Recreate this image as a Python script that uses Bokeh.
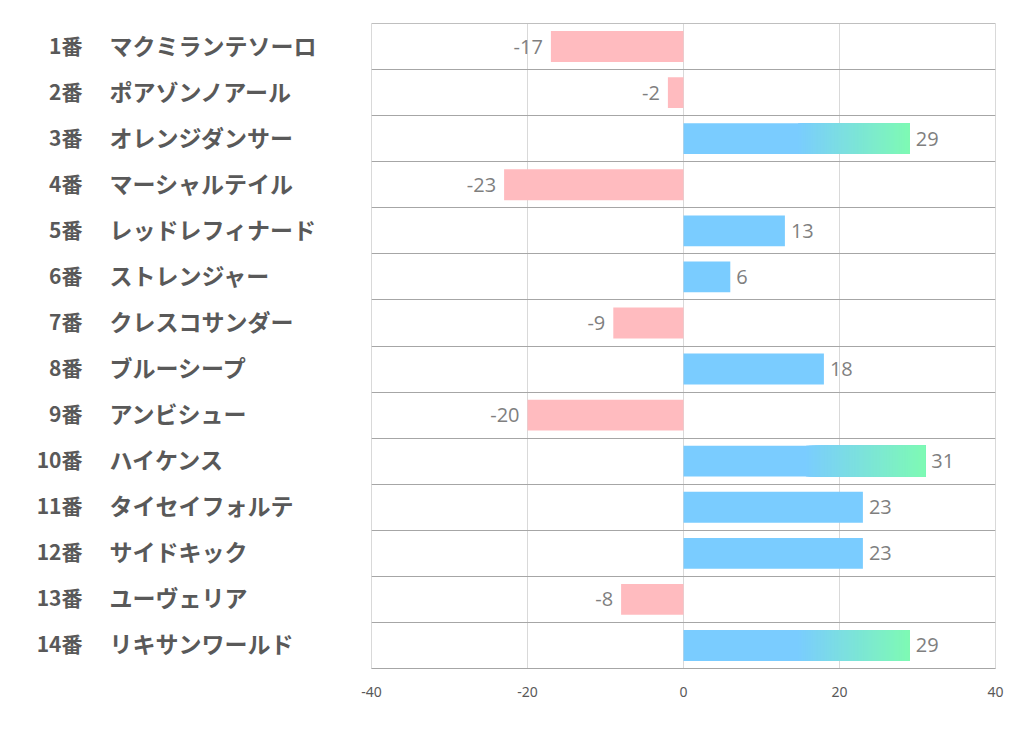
from bokeh.plotting import figure
from bokeh.layouts import row
from bokeh.models import Range1d, FixedTicker, ColumnDataSource, Span
from bokeh.core.properties import value
from bokeh.embed import file_html
from bokeh.resources import INLINE

# ---- data ----
numbers = ["1番", "2番", "3番", "4番", "5番", "6番", "7番", "8番", "9番",
           "10番", "11番", "12番", "13番", "14番"]
names = ["マクミランテソーロ", "ポアゾンノアール", "オレンジダンサー", "マーシャルテイル",
         "レッドレフィナード", "ストレンジャー", "クレスコサンダー", "ブルーシープ",
         "アンビシュー", "ハイケンス", "タイセイフォルテ", "サイドキック",
         "ユーヴェリア", "リキサンワールド"]
values = [-17, -2, 29, -23, 13, 6, -9, 18, -20, 31, 23, 23, -8, 29]
x_ticks = [-40, -20, 0, 20, 40]
x_tick_labels = ["-40", "-20", "0", "20", "40"]

# ---- style ----
PINK = "#FFBBBF"
BLUE = (122, 204, 255)
GREEN = (126, 250, 180)
GRAD_MIN = 25
BAR_H = 0.67
N = len(values)
ys = list(range(1, N + 1))

H = 714
TOP, BOTTOM = 23, 46

y_range = Range1d(N + 0.5, 0.5)

# ---- left label figure ----
LW = 351
lab = figure(width=LW, height=H, x_range=Range1d(0, LW), y_range=y_range,
             output_backend="svg", toolbar_location=None,
             min_border_left=0, min_border_right=0,
             min_border_top=TOP, min_border_bottom=BOTTOM)
lab.axis.visible = False
lab.grid.visible = False
lab.outline_line_color = None
src_lab = ColumnDataSource(dict(y=ys, num=numbers, name=names,
                                xn=[82] * N, xm=[109] * N))
lab.text(x="xn", y="y", text="num", source=src_lab, text_align="right",
         text_baseline="middle", y_offset=-2, text_font=value("Noto Sans CJK JP"),
         text_font_style="bold", text_font_size="21px", text_color="#595959")
lab.text(x="xm", y="y", text="name", source=src_lab, text_align="left",
         text_baseline="middle", y_offset=-2, text_font=value("Noto Sans CJK JP"),
         text_font_style="bold", text_font_size="23px", text_color="#595959")

# ---- main chart ----
p = figure(width=663, height=H, x_range=Range1d(x_ticks[0], x_ticks[-1]),
           y_range=y_range, output_backend="svg", toolbar_location=None,
           min_border_left=20, min_border_right=19,
           min_border_top=TOP, min_border_bottom=BOTTOM)
p.outline_line_color = "#D9D9D9"
p.yaxis.visible = False
p.ygrid.ticker = FixedTicker(ticks=[k + 0.5 for k in range(0, N + 1)])
p.ygrid.grid_line_color = "#A6A6A6"
p.ygrid.grid_line_width = 1
p.xgrid.ticker = FixedTicker(ticks=x_ticks)
p.xgrid.grid_line_color = "#D9D9D9"
p.xaxis.ticker = FixedTicker(ticks=x_ticks)
p.xaxis.major_label_overrides = {t: s for t, s in zip(x_ticks, x_tick_labels)}
p.xaxis.axis_line_color = "#A6A6A6"
p.xaxis.major_tick_line_color = None
p.xaxis.minor_tick_line_color = None
p.xaxis.major_label_text_color = "#595959"
p.xaxis.major_label_text_font = "Noto Sans"
p.xaxis.major_label_text_font_size = "14px"
p.xaxis.major_label_standoff = 12
p.add_layout(Span(location=0.5, dimension="width", line_color="#A6A6A6",
                  line_width=1))

def hexc(c):
    return "#%02x%02x%02x" % tuple(int(round(v)) for v in c)

# negative bars
neg = [(y, v) for y, v in zip(ys, values) if v < 0]
p.hbar(y=[y for y, _ in neg], left=[v for _, v in neg], right=0, height=BAR_H,
       fill_color=PINK, line_color=None)

# positive bars: full solid bar, then gradient overlay for the top values
pos = [(y, v) for y, v in zip(ys, values) if v > 0]
p.hbar(y=[y for y, _ in pos], left=0, right=[v for _, v in pos], height=BAR_H,
       fill_color=hexc(BLUE), line_color=None)

gl, gr, gb, gt, gc = [], [], [], [], []
NS = 80
for y, v in pos:
    if v < GRAD_MIN:
        continue
    start = 0.5 * v
    for k in range(1, NS):
        t = (k + 0.5) / NS
        c = tuple(BLUE[j] + (GREEN[j] - BLUE[j]) * t for j in range(3))
        gl.append(start + (v - start) * k / NS)
        gr.append(v)
        gb.append(y - BAR_H / 2)
        gt.append(y + BAR_H / 2)
        gc.append(hexc(c))
p.quad(left=gl, right=gr, bottom=gb, top=gt, fill_color=gc, line_color=None)

# data labels
lbl_font = value("Open Sans")
pos_lab = ColumnDataSource(dict(x=[v for _, v in pos], y=[y for y, _ in pos],
                                t=[str(v) for _, v in pos]))
neg_lab = ColumnDataSource(dict(x=[v for _, v in neg], y=[y for y, _ in neg],
                                t=[str(v) for _, v in neg]))
p.text(x="x", y="y", text="t", source=pos_lab, x_offset=6, text_align="left",
       text_baseline="middle", text_font=lbl_font, text_font_size="20px",
       text_color="#7F7F7F")
p.text(x="x", y="y", text="t", source=neg_lab, x_offset=-8, text_align="right",
       text_baseline="middle", text_font=lbl_font, text_font_size="20px",
       text_color="#7F7F7F")

layout = row(lab, p, spacing=0)
open("out.html", "w").write(file_html(layout, INLINE))
